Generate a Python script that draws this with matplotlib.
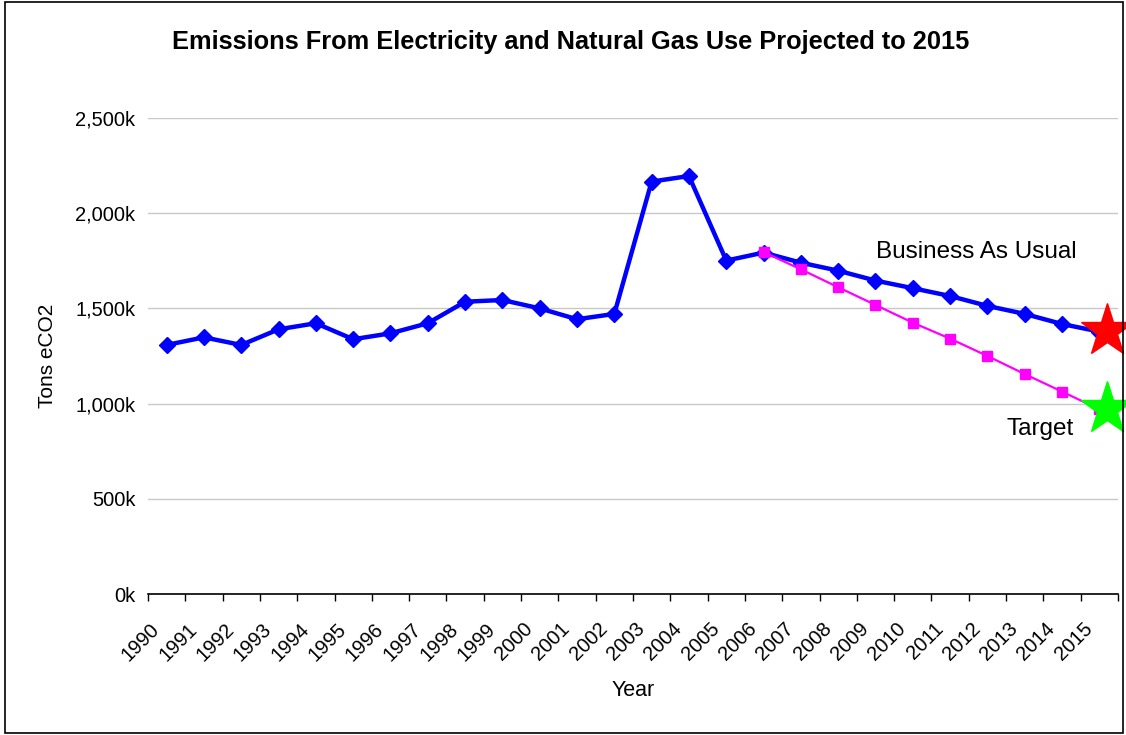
import numpy as np
import matplotlib
matplotlib.use("Agg")
import matplotlib.pyplot as plt
import matplotlib.transforms as mtransforms
from matplotlib.ticker import FuncFormatter, FixedLocator, NullFormatter

plt.rcParams['font.family'] = ['Liberation Sans', 'DejaVu Sans']

years = [str(y) for y in range(1990, 2016)]
# business as usual, tons eCO2 (thousands)
bau = [1308, 1348, 1308, 1390, 1422, 1338, 1369, 1422, 1535, 1544,
       1500, 1443, 1471, 2166, 2195, 1751, 1793, 1740, 1698, 1646,
       1606, 1565, 1513, 1471, 1418, 1378]
# reduction target path, 2006 onwards
target_years = years[16:]
target = [1796, 1705, 1611, 1518, 1425, 1341, 1250, 1155, 1063, 970]
# end markers
bau_star = 1380
target_star = 970

fig = plt.figure(figsize=(11.26, 7.35), dpi=100)
ax = fig.add_axes([0.1314, 0.1918, 0.8615, 0.6477])

x = np.arange(len(years))
tx = np.arange(len(years) - len(target_years), len(years))

ax.plot(x, bau, color='#0000ff', lw=3.2, marker='D', ms=8.5,
        mfc='#0000ff', mec='#0000ff', zorder=3)
ax.plot(tx, target, color='#ff00ff', lw=1.6, marker='s', ms=7.5,
        mfc='#ff00ff', mec='#ff00ff', zorder=4)
ax.plot([x[-1] + 0.2], [bau_star], marker='*', ms=40, color='#ff0000',
        mec='#ff0000', clip_on=False, zorder=5)
ax.plot([x[-1] + 0.2], [target_star], marker='*', ms=40, color='#00ff00',
        mec='#00ff00', clip_on=False, zorder=5)

ax.text(21.69, 1765, "Business As Usual", fontsize=17.5, ha='center', va='baseline')
ax.text(23.41, 835, "Target", fontsize=17.5, ha='center', va='baseline')

ax.set_xlim(-0.5, len(years) - 0.5)
ax.set_ylim(0, 2500)
ax.set_yticks(np.arange(0, 2501, 500))
ax.yaxis.set_major_formatter(FuncFormatter(lambda v, p: f"{int(v):,}k"))
ax.grid(axis='y', color='#c8c8c8', lw=1.0)
ax.set_axisbelow(True)
ax.tick_params(axis='y', length=0, pad=9, labelsize=14.5)

ax.set_xticks(x)
ax.set_xticklabels(years, rotation=45, ha='right', va='center',
                   rotation_mode='anchor', fontsize=14.5)
ax.xaxis.set_minor_locator(FixedLocator(np.arange(-0.5, len(years), 1.0)))
ax.xaxis.set_minor_formatter(NullFormatter())
ax.tick_params(axis='x', which='major', length=0, pad=23)
ax.tick_params(axis='x', which='minor', length=5, width=1, color='black')
offset = mtransforms.ScaledTranslation(-10 / 100, 0, fig.dpi_scale_trans)
for lab in ax.get_xticklabels():
    lab.set_transform(lab.get_transform() + offset)

for s in ['top', 'right', 'left']:
    ax.spines[s].set_visible(False)
ax.spines['bottom'].set_linewidth(1.2)

ax.set_xlabel("Year", fontsize=15.5, va='center')
ax.xaxis.set_label_coords(0.5, -0.2017)
ax.set_ylabel("Tons eCO2", fontsize=15, va='center')
ax.yaxis.set_label_coords(-0.104, 0.5)

fig.text(0.507, 0.943, "Emissions From Electricity and Natural Gas Use Projected to 2015",
         fontsize=18.3, fontweight='bold', ha='center', va='center')

border = plt.Rectangle((0.004, 0.003), 0.993, 0.994, transform=fig.transFigure,
                       fill=False, ec='black', lw=1.2)
fig.patches.append(border)

fig.savefig("out.png", dpi=100)
